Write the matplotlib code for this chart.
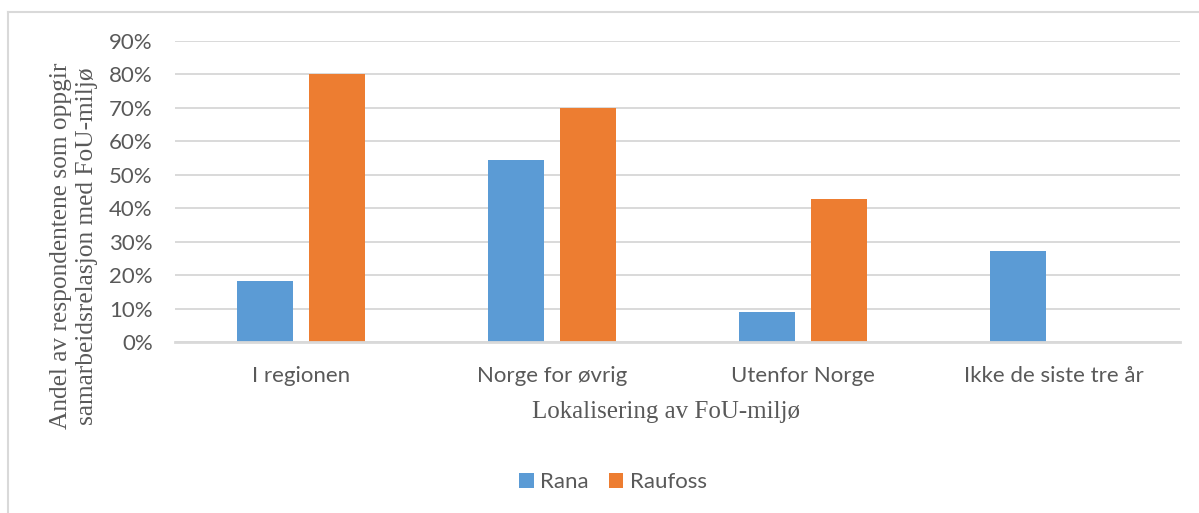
import matplotlib
matplotlib.use("Agg")
import matplotlib.pyplot as plt
from matplotlib.lines import Line2D
import numpy as np

# Data
categories = ["I regionen", "Norge for øvrig", "Utenfor Norge", "Ikke de siste tre år"]
series_names = ["Rana", "Raufoss"]
rana = [18.2, 54.5, 9.1, 27.3]
raufoss = [80.0, 70.0, 42.9, 0.0]
y_ticks = [0, 10, 20, 30, 40, 50, 60, 70, 80, 90]
y_tick_labels = [f"{v}%" for v in y_ticks]

colors = ["#5B9BD5", "#ED7D31"]
text_gray = "#595959"
grid_gray = "#D9D9D9"

W, H = 1199, 513
fig = plt.figure(figsize=(W / 100, H / 100), dpi=100)

def fx(px):
    return px / W

def fy(py):
    return 1 - py / H

# Outer chart border (top and left)
fig.add_artist(Line2D([fx(8), fx(8)], [fy(12), fy(H)], color=grid_gray, lw=1.5,
                      transform=fig.transFigure))
fig.add_artist(Line2D([fx(8), 1], [fy(12), fy(12)], color=grid_gray, lw=1.5,
                      transform=fig.transFigure))

left, right, top, bottom = 175, 1180, 41, 342
ax = fig.add_axes([fx(left), fy(bottom), fx(right - left), (bottom - top) / H])

x = np.arange(len(categories))
bw = 0.223
gap = 0.064
off = (bw + gap) / 2
b1 = ax.bar(x - off, rana, width=bw, color=colors[0], label=series_names[0], zorder=3)
b2 = ax.bar(x + off, raufoss, width=bw, color=colors[1], label=series_names[1], zorder=3)

ax.set_xlim(-0.5, len(categories) - 0.5)
ax.set_ylim(0, 90)
ax.set_yticks(y_ticks)
ax.set_yticklabels(y_tick_labels)
ax.set_xticks(x)
ax.set_xticklabels(categories)

sans = ["Lato", "DejaVu Sans"]
serif = ["Liberation Serif", "DejaVu Serif"]
for lab in ax.get_yticklabels() + ax.get_xticklabels():
    lab.set_fontfamily(sans)
    lab.set_fontsize(16)
    lab.set_color(text_gray)

ax.tick_params(axis="y", length=0, pad=16)
ax.tick_params(axis="x", length=0, pad=17)

ax.grid(axis="y", color=grid_gray, lw=1.4, zorder=0)
for s in ["top", "right", "left"]:
    ax.spines[s].set_visible(False)
ax.spines["bottom"].set_color(grid_gray)
ax.spines["bottom"].set_linewidth(2)
ax.spines["bottom"].set_zorder(4)

# Axis titles
fig.text(fx(666), fy(412), "Lokalisering av FoU-miljø", ha="center", va="center",
         fontsize=18, family=serif, color=text_gray)
fig.text(fx(74), fy(246),
         "Andel av respondentene som oppgir\nsamarbeidsrelasjon med FoU-miljø",
         ha="center", va="center", rotation=90, fontsize=18.3, family=serif,
         color=text_gray, linespacing=1.2, multialignment="center")

# Legend
leg = fig.legend(handles=[b1, b2], labels=series_names, loc="center",
                 bbox_to_anchor=(fx(613), fy(482)), ncol=2, frameon=False,
                 handlelength=0.65, handleheight=0.65, handletextpad=0.3,
                 columnspacing=0.9, prop={"family": sans, "size": 16})
for t in leg.get_texts():
    t.set_color(text_gray)

fig.savefig("out.png", dpi=100)
